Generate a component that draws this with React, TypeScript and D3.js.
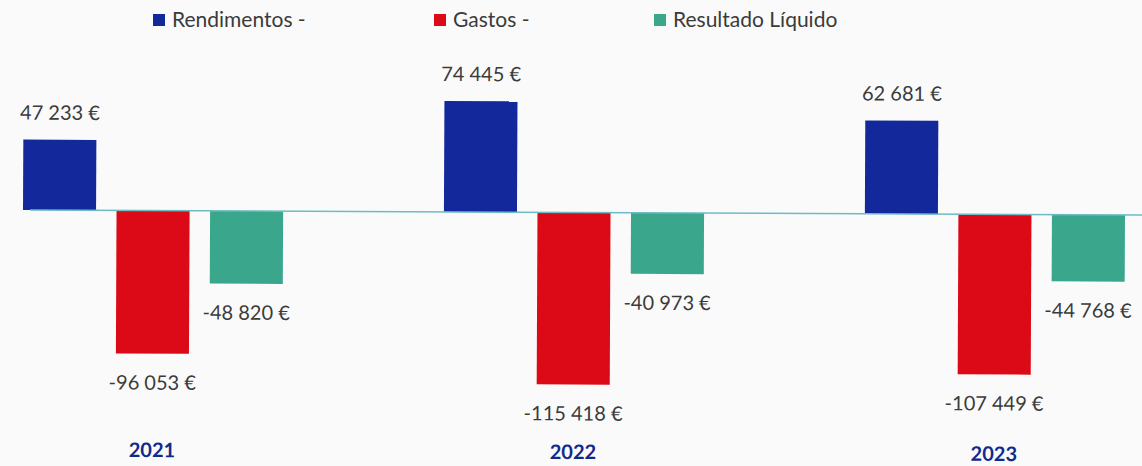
import React from "react";
import * as d3 from "d3";

const years = ["2021", "2022", "2023"];
const seriesNames = ["Rendimentos -", "Gastos -", "Resultado Líquido"];
const rendimentos = [47233, 74445, 62681];
const gastos = [-96053, -115418, -107449];
const resultado = [-48820, -40973, -44768];
const seriesColors = ["#13299b", "#dc0a16", "#3aa78d"];

const W = 1142;
const H = 466;

const locale = d3.formatLocale({
  decimal: ",",
  thousands: " ",
  grouping: [3],
  currency: ["", " €"],
  minus: "-",
});
const fmt = locale.format("$,d");

export default function App() {
  const values = [rendimentos, gastos, resultado];
  const x0 = d3.scaleBand<string>().domain(years).range([23, 1125]).paddingInner(0.382).paddingOuter(0);
  const x1 = d3.scaleBand<string>().domain(seriesNames).range([0, x0.bandwidth()]).paddingInner(0.219).paddingOuter(0);
  const y = d3.scaleLinear().domain([-130000, 90000]).range([406.2, 78.4]);
  const font = "Lato, 'Open Sans', sans-serif";
  const legendX = [153, 434, 654];

  return (
    <svg width={W} height={H} style={{ position: "absolute", left: 0, top: 0, background: "#fafafa" }}>
      <rect x={0} y={0} width={W} height={H} fill="#fafafa" />
      {seriesNames.map((s, i) => (
        <g key={s}>
          <rect x={legendX[i]} y={14} width={12} height={12} fill={seriesColors[i]} />
          <text x={legendX[i] + 19} y={27} fontFamily={font} fontSize={21} fill="#3b3b3b">
            {s}
          </text>
        </g>
      ))}
      <g transform={`rotate(0.26, 574, ${y(0)})`}>
        {years.map((yr, gi) => (
          <g key={yr} transform={`translate(${x0(yr)},0)`}>
            {seriesNames.map((s, si) => {
              const v = values[si][gi];
              const bx = x1(s)!;
              const top = Math.min(y(v), y(0));
              const h = Math.abs(y(v) - y(0));
              const cx = bx + x1.bandwidth() / 2;
              const ly = v >= 0 ? y(v) - 20 : y(v) + 36;
              return (
                <g key={s}>
                  <rect x={bx} y={top} width={x1.bandwidth()} height={h} fill={seriesColors[si]} />
                  <text x={cx} y={ly} textAnchor="middle" fontFamily={font} fontSize={20} fill="#3b3b3b">
                    {fmt(v)}
                  </text>
                </g>
              );
            })}
          </g>
        ))}
        <line x1={30} x2={W} y1={y(0)} y2={y(0)} stroke="#6cbcc4" strokeWidth={1.5} />
        {years.map((yr) => (
          <text
            key={yr}
            x={x0(yr)! + x0.bandwidth() / 2}
            y={459}
            textAnchor="middle"
            fontFamily={font}
            fontSize={20}
            fontWeight="bold"
            fill="#102a8c"
          >
            {yr}
          </text>
        ))}
      </g>
    </svg>
  );
}
